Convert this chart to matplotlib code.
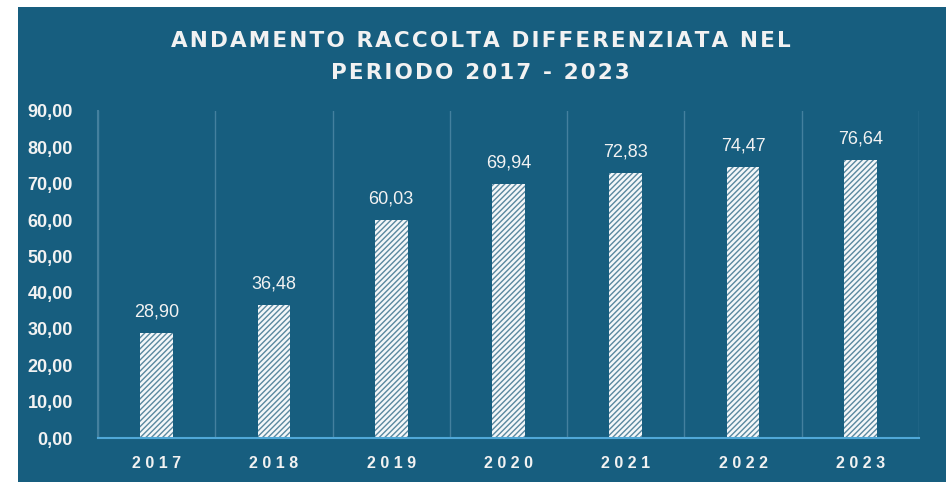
import matplotlib.pyplot as plt
from matplotlib.patches import Rectangle
from matplotlib.ticker import FixedLocator
import numpy as np

years = ["2017", "2018", "2019", "2020", "2021", "2022", "2023"]
values = [28.90, 36.48, 60.03, 69.94, 72.83, 74.47, 76.64]
y_ticks = [0, 10, 20, 30, 40, 50, 60, 70, 80, 90]
title_lines = ["ANDAMENTO RACCOLTA DIFFERENZIATA NEL", "PERIODO 2017 - 2023"]

bg = "#175e7f"
fg = "#f2f2f2"
num_font = "Liberation Sans"


def spaced(s, sep="\u200a"):
    # poor man's letter spacing
    return sep.join(s)


def comma(v):
    return f"{v:.2f}".replace(".", ",")


plt.rcParams["hatch.linewidth"] = 1.0

fig = plt.figure(figsize=(9.46, 4.82), dpi=100)
fig.patch.set_facecolor("white")
# dark panel behind the chart
fig.patches.append(Rectangle((18 / 946, 0), 1, 1 - 7 / 482, transform=fig.transFigure,
                             facecolor=bg, edgecolor="none", zorder=-1))

ax = fig.add_axes([98 / 946, 44 / 482, 821 / 946, 327 / 482])
ax.set_facecolor("none")

x = np.arange(len(years))
ax.bar(x, values, width=0.28, color="#f4f7f9", edgecolor="#5a889f", hatch="//////",
       linewidth=0, zorder=3)

for xi, v in zip(x, values):
    ax.annotate(comma(v), (xi, v), xytext=(0, 9), textcoords="offset points",
                ha="center", va="bottom", color=fg, fontsize=13,
                family=num_font)

ax.set_xlim(-0.5, len(years) - 0.5)
ax.set_ylim(0, 90)
ax.set_yticks(y_ticks)
ax.set_yticklabels([comma(t) for t in y_ticks])
ax.set_xticks(x)
ax.set_xticklabels([spaced(y, " ") for y in years])
ax.xaxis.set_minor_locator(FixedLocator(np.arange(-0.5, len(years), 1.0)))
ax.grid(axis="x", which="minor", color="#44809e", linewidth=1.0, zorder=1)

ax.tick_params(axis="both", which="both", length=0, colors=fg)
ax.tick_params(axis="y", pad=18)
ax.tick_params(axis="x", pad=13)
for lab in ax.get_yticklabels():
    lab.set(family=num_font, fontweight="bold", fontsize=13)
for lab in ax.get_xticklabels():
    lab.set(family=num_font, fontweight="bold", fontsize=11.5)

for side in ["top", "right"]:
    ax.spines[side].set_visible(False)
ax.spines["left"].set_color("#44809e")
ax.spines["left"].set_linewidth(1.5)
ax.spines["bottom"].set_color("#4fa8d8")
ax.spines["bottom"].set_linewidth(1.5)
ax.spines["bottom"].set_zorder(4)

fig.text(0.508, 0.882, "\n".join(spaced(t) for t in title_lines), ha="center",
         va="center", color=fg, fontsize=15.5, fontweight="bold", linespacing=1.75)

fig.savefig("out.png", dpi=100)
